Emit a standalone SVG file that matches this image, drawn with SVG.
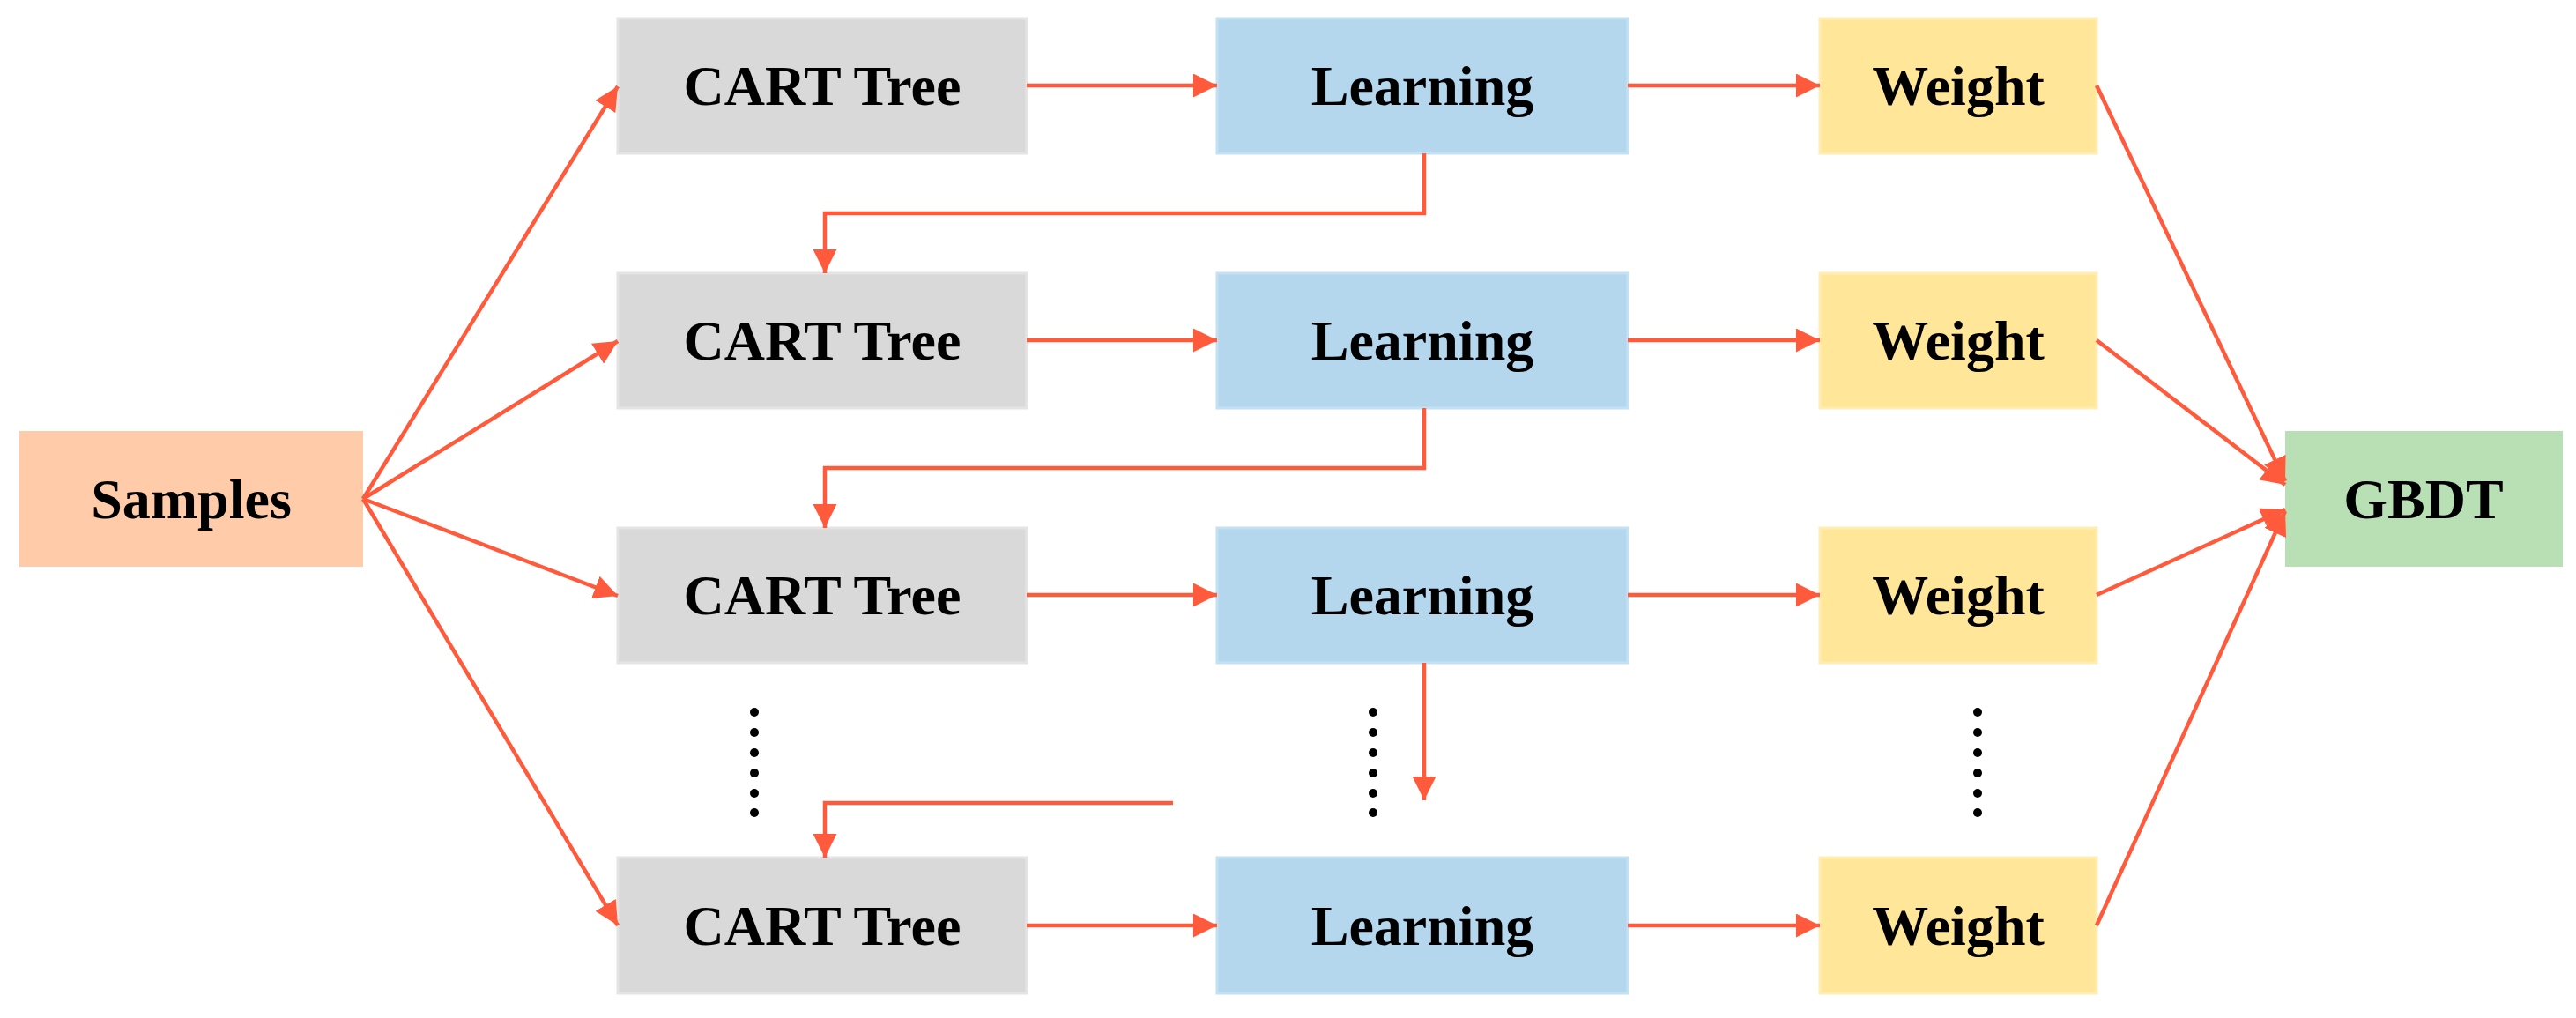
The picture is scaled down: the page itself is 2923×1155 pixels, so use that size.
<svg xmlns="http://www.w3.org/2000/svg" width="2923" height="1155" viewBox="0 0 2923 1155">
<style>
.t{font-family:"Liberation Serif",serif;font-weight:bold;font-size:64px;text-anchor:middle;dominant-baseline:central;fill:#000}
.c{fill:#D9D9D9;stroke:#E4E4E4;stroke-width:3}
.l{fill:#B4D7EE;stroke:#C4E0F3;stroke-width:3}
.w{fill:#FFE699;stroke:#FFEDB3;stroke-width:3}
.e{fill:none;stroke:#FF5A3C;stroke-width:4.5}
.d{fill:#000}
</style>
<defs><marker id="a" viewBox="0 0 10 10" refX="10" refY="5" markerWidth="6" markerHeight="6" markerUnits="strokeWidth" orient="auto"><path d="M0,0L10,5L0,10z" fill="#FF5A3C"/></marker></defs>
<g id="samples"><rect x="22" y="489" width="390" height="154" fill="#FFCBA8"/><text class="t" x="217" y="566">Samples</text></g>
<g id="gbdt"><rect x="2593" y="489" width="315" height="154" fill="#B9E0B4"/><text class="t" x="2750" y="566">GBDT</text></g>
<g id="cart1"><rect class="c" x="701" y="21" width="464" height="153"/><text class="t" x="933" y="97">CART Tree</text></g>
<g id="cart2"><rect class="c" x="701" y="310" width="464" height="153"/><text class="t" x="933" y="386">CART Tree</text></g>
<g id="cart3"><rect class="c" x="701" y="599" width="464" height="153"/><text class="t" x="933" y="675">CART Tree</text></g>
<g id="cart4"><rect class="c" x="701" y="973" width="464" height="154"/><text class="t" x="933" y="1050">CART Tree</text></g>
<g id="learn1"><rect class="l" x="1381" y="21" width="466" height="153"/><text class="t" x="1614" y="97">Learning</text></g>
<g id="learn2"><rect class="l" x="1381" y="310" width="466" height="153"/><text class="t" x="1614" y="386">Learning</text></g>
<g id="learn3"><rect class="l" x="1381" y="599" width="466" height="153"/><text class="t" x="1614" y="675">Learning</text></g>
<g id="learn4"><rect class="l" x="1381" y="973" width="466" height="154"/><text class="t" x="1614" y="1050">Learning</text></g>
<g id="weight1"><rect class="w" x="2065" y="21" width="314" height="153"/><text class="t" x="2222" y="97">Weight</text></g>
<g id="weight2"><rect class="w" x="2065" y="310" width="314" height="153"/><text class="t" x="2222" y="386">Weight</text></g>
<g id="weight3"><rect class="w" x="2065" y="599" width="314" height="153"/><text class="t" x="2222" y="675">Weight</text></g>
<g id="weight4"><rect class="w" x="2065" y="973" width="314" height="154"/><text class="t" x="2222" y="1050">Weight</text></g>
<g id="dots">
<g transform="translate(856,0)"><circle class="d" cx="0" cy="808" r="5"/><circle class="d" cx="0" cy="831" r="5"/><circle class="d" cx="0" cy="854" r="5"/><circle class="d" cx="0" cy="877" r="5"/><circle class="d" cx="0" cy="900" r="5"/><circle class="d" cx="0" cy="922" r="5"/></g>
<g transform="translate(1558,0)"><circle class="d" cx="0" cy="808" r="5"/><circle class="d" cx="0" cy="831" r="5"/><circle class="d" cx="0" cy="854" r="5"/><circle class="d" cx="0" cy="877" r="5"/><circle class="d" cx="0" cy="900" r="5"/><circle class="d" cx="0" cy="922" r="5"/></g>
<g transform="translate(2244,0)"><circle class="d" cx="0" cy="808" r="5"/><circle class="d" cx="0" cy="831" r="5"/><circle class="d" cx="0" cy="854" r="5"/><circle class="d" cx="0" cy="877" r="5"/><circle class="d" cx="0" cy="900" r="5"/><circle class="d" cx="0" cy="922" r="5"/></g>
</g>
<g id="connectors">
<path class="e" marker-end="url(#a)" d="M412,566L701,98"/>
<path class="e" marker-end="url(#a)" d="M412,566L701,387"/>
<path class="e" marker-end="url(#a)" d="M412,566L701,676"/>
<path class="e" marker-end="url(#a)" d="M412,566L701,1050"/>
<path class="e" marker-end="url(#a)" d="M1165,97H1381"/>
<path class="e" marker-end="url(#a)" d="M1165,386H1381"/>
<path class="e" marker-end="url(#a)" d="M1165,675H1381"/>
<path class="e" marker-end="url(#a)" d="M1165,1050H1381"/>
<path class="e" marker-end="url(#a)" d="M1847,97H2065"/>
<path class="e" marker-end="url(#a)" d="M1847,386H2065"/>
<path class="e" marker-end="url(#a)" d="M1847,675H2065"/>
<path class="e" marker-end="url(#a)" d="M1847,1050H2065"/>
<path class="e" marker-end="url(#a)" d="M1616,174V242H936V310"/>
<path class="e" marker-end="url(#a)" d="M1616,463V531H936V599"/>
<path class="e" marker-end="url(#a)" d="M1616,752V908"/>
<path class="e" marker-end="url(#a)" d="M1331,911H936V973"/>
<path class="e" marker-end="url(#a)" d="M2379,97L2593,546"/>
<path class="e" marker-end="url(#a)" d="M2379,386L2593,550"/>
<path class="e" marker-end="url(#a)" d="M2379,675L2593,578"/>
<path class="e" marker-end="url(#a)" d="M2379,1050L2593,580"/>
</g>
</svg>
